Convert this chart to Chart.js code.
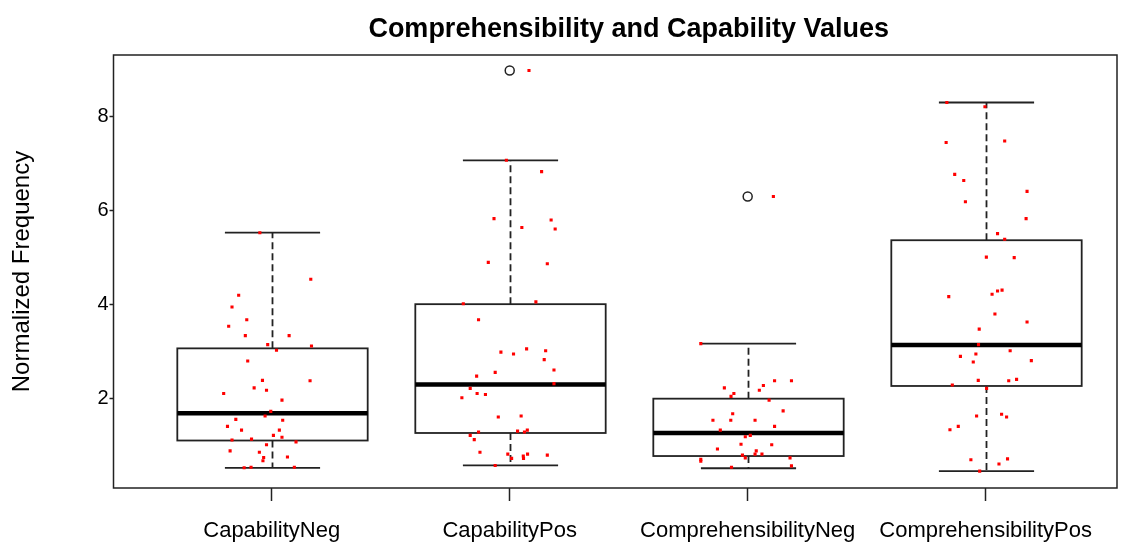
<!DOCTYPE html>
<html>
<head>
<meta charset="utf-8">
<script src="https://cdn.jsdelivr.net/npm/chart.js@4.4.1/dist/chart.umd.min.js"></script>
<style>
  body { margin: 0; background: #fff; }
  #wrap { width: 1131px; height: 544px; overflow: hidden; }
</style>
</head>
<body>
<div id="wrap"><canvas id="myChart" width="1131" height="544"></canvas></div>
<script>
// Data
const groups = ["CapabilityNeg", "CapabilityPos", "ComprehensibilityNeg", "ComprehensibilityPos"];
const yTicks = [2, 4, 6, 8];

// boxplot stats
const lowWhisker = [0.52, 0.57, 0.51, 0.45];
const lowerQuartile = [1.1, 1.26, 0.77, 2.26];
const medians = [1.68, 2.29, 1.26, 3.13];
const upperQuartile = [3.06, 4.0, 1.99, 5.36];
const highWhisker = [5.52, 7.06, 3.16, 8.29];
const outliers = [[], [8.97], [6.29], []];

// jittered observations (value + horizontal jitter in group units)
const capNegValues = [5.52, 4.53, 4.19, 3.94, 3.67, 3.53, 3.33, 3.33, 3.14, 3.11, 3.02, 2.79, 2.38, 2.37, 2.22, 2.17, 2.1, 1.96, 1.72, 1.62, 1.55, 1.53, 1.4, 1.32, 1.32, 1.21, 1.17, 1.11, 1.13, 1.07, 1.01, 0.88, 0.85, 0.74, 0.67, 0.75, 0.52, 0.53, 0.53];
const capNegJitter = [-0.05, 0.164, -0.139, -0.167, -0.105, -0.181, -0.111, 0.073, -0.017, 0.167, 0.02, -0.101, -0.039, 0.161, -0.074, -0.022, -0.202, 0.043, -0.004, -0.028, -0.151, 0.046, -0.186, -0.127, 0.032, 0.007, 0.043, -0.167, -0.085, 0.102, -0.022, -0.175, -0.052, -0.034, -0.037, 0.066, -0.116, -0.087, 0.095];

const capPosValues = [8.97, 7.06, 6.82, 5.82, 5.63, 5.79, 5.6, 4.89, 4.86, 4.01, 4.05, 3.67, 2.98, 2.94, 3.05, 3.01, 2.82, 2.6, 2.55, 2.47, 2.31, 2.21, 2.1, 2.08, 2.01, 1.6, 1.62, 1.28, 1.3, 1.32, 1.28, 1.21, 1.12, 0.85, 0.81, 0.72, 0.77, 0.72, 0.81, 0.79, 0.57];
const capPosJitter = [0.081, -0.014, 0.134, -0.066, 0.051, 0.174, 0.191, -0.09, 0.158, -0.195, 0.11, -0.131, -0.037, 0.016, 0.071, 0.151, 0.145, 0.186, -0.061, -0.139, 0.186, -0.166, -0.137, -0.102, -0.201, -0.048, 0.048, -0.131, 0.033, 0.074, 0.062, -0.166, -0.149, -0.125, -0.008, 0.008, 0.057, 0.058, 0.075, 0.158, -0.061];

const compNegValues = [6.29, 3.16, 2.37, 2.37, 2.22, 2.27, 2.17, 2.1, 2.04, 1.96, 1.73, 1.67, 1.53, 1.53, 1.53, 1.4, 1.32, 1.18, 1.21, 1.02, 0.92, 1.01, 0.88, 0.81, 0.81, 0.79, 0.73, 0.7, 0.66, 0.73, 0.56, 0.53];
const compNegJitter = [0.108, -0.197, 0.113, 0.184, -0.098, 0.066, 0.049, -0.058, -0.07, 0.09, 0.149, -0.063, -0.146, -0.071, 0.031, 0.113, -0.115, -0.01, 0.011, -0.028, -0.127, 0.101, 0.036, 0.031, 0.06, -0.022, -0.01, -0.197, -0.197, 0.178, 0.184, -0.068];

const compPosValues = [8.29, 8.2, 7.44, 7.47, 6.76, 6.63, 6.4, 6.18, 5.82, 5.5, 5.38, 5.0, 4.99, 4.16, 4.21, 4.28, 4.3, 3.79, 3.62, 3.47, 3.14, 3.01, 2.89, 2.94, 2.77, 2.8, 2.38, 2.37, 2.4, 2.28, 2.21, 1.62, 1.66, 1.6, 1.33, 1.4, 0.69, 0.71, 0.6, 0.45];
const compPosJitter = [-0.163, -0.003, -0.166, 0.08, -0.13, -0.092, 0.174, -0.085, 0.17, 0.05, 0.08, 0.003, 0.12, -0.155, 0.027, 0.05, 0.069, 0.039, 0.174, -0.027, -0.03, 0.103, -0.106, -0.041, -0.052, 0.192, -0.031, 0.097, 0.13, -0.14, 0.004, -0.038, 0.067, 0.088, -0.15, -0.115, -0.062, 0.092, 0.056, -0.025];

const groupValues = [capNegValues, capPosValues, compNegValues, compPosValues];
const groupJitter = [capNegJitter, capPosJitter, compNegJitter, compPosJitter];

const FONT = "'Liberation Sans', Arial, sans-serif";

const points = [];
groupValues.forEach((vals, g) => {
  vals.forEach((v, i) => points.push({ x: g + 1 + groupJitter[g][i], y: v }));
});

const outlierPoints = [];
outliers.forEach((vals, g) => vals.forEach((v) => outlierPoints.push({ x: g + 1, y: v })));

// boxes, whiskers, frame and title drawn through the scales
const boxPlugin = {
  id: "boxes",
  beforeDatasetsDraw(chart) {
    const { ctx, chartArea, scales } = chart;
    const x = scales.x;
    const y = scales.y;
    const boxHalf = x.getPixelForValue(1.4) - x.getPixelForValue(1);
    const capHalf = x.getPixelForValue(1.2) - x.getPixelForValue(1);

    ctx.save();
    ctx.strokeStyle = "#222";

    groups.forEach((g, i) => {
      const cx = Math.round(x.getPixelForValue(i + 1)) + 0.5;
      const yLo = y.getPixelForValue(lowWhisker[i]);
      const yQ1 = y.getPixelForValue(lowerQuartile[i]);
      const yMed = y.getPixelForValue(medians[i]);
      const yQ3 = y.getPixelForValue(upperQuartile[i]);
      const yHi = y.getPixelForValue(highWhisker[i]);

      // whiskers
      ctx.lineWidth = 1.8;
      ctx.setLineDash([7, 4]);
      ctx.beginPath();
      ctx.moveTo(cx, yQ3);
      ctx.lineTo(cx, yHi);
      ctx.moveTo(cx, yQ1);
      ctx.lineTo(cx, yLo);
      ctx.stroke();
      ctx.setLineDash([]);

      // caps
      ctx.beginPath();
      ctx.moveTo(cx - capHalf, yHi);
      ctx.lineTo(cx + capHalf, yHi);
      ctx.moveTo(cx - capHalf, yLo);
      ctx.lineTo(cx + capHalf, yLo);
      ctx.stroke();

      // box
      ctx.strokeRect(cx - boxHalf, yQ3, boxHalf * 2, yQ1 - yQ3);

      // median
      ctx.lineWidth = 4.5;
      ctx.strokeStyle = "#000";
      ctx.beginPath();
      ctx.moveTo(cx - boxHalf, yMed);
      ctx.lineTo(cx + boxHalf, yMed);
      ctx.stroke();
      ctx.strokeStyle = "#222";
    });

    // frame
    ctx.lineWidth = 1.5;
    ctx.strokeStyle = "#222";
    ctx.strokeRect(chartArea.left, chartArea.top, chartArea.right - chartArea.left, chartArea.bottom - chartArea.top);

    // title, centred over the group range
    ctx.fillStyle = "#000";
    ctx.font = "bold 27px " + FONT;
    ctx.textAlign = "center";
    ctx.textBaseline = "alphabetic";
    ctx.fillText("Comprehensibility and Capability Values", x.getPixelForValue(2.5), 37);
    ctx.restore();
  },
};

const config = {
  type: "scatter",
  data: {
    datasets: [
      {
        label: "points",
        data: points,
        pointStyle: "rect",
        pointRadius: 2.2,
        pointBorderWidth: 0,
        backgroundColor: "#ff0000",
        borderColor: "#ff0000",
      },
      {
        label: "outliers",
        data: outlierPoints,
        pointStyle: "circle",
        pointRadius: 4.5,
        pointBorderWidth: 1.5,
        backgroundColor: "rgba(0,0,0,0)",
        borderColor: "#222",
      },
    ],
  },
  options: {
    responsive: false,
    animation: false,
    devicePixelRatio: 1,
    layout: {
      padding: { top: 55, right: 14, left: 0, bottom: 0 },
    },
    scales: {
      x: {
        type: "linear",
        min: 0.335,
        max: 4.552,
        afterBuildTicks: (axis) => {
          axis.ticks = groups.map((g, i) => ({ value: i + 1 }));
        },
        afterFit: (axis) => {
          axis.height = 56;
        },
        ticks: {
          autoSkip: false,
          maxRotation: 0,
          padding: 17,
          color: "#000",
          font: { family: FONT, size: 22 },
          callback: (v) => groups[v - 1],
        },
        grid: {
          drawOnChartArea: false,
          tickLength: 13,
          tickWidth: 1.5,
          tickColor: "#222",
        },
        border: { display: false },
      },
      y: {
        type: "linear",
        min: 0.09,
        max: 9.3,
        afterBuildTicks: (axis) => {
          axis.ticks = yTicks.map((v) => ({ value: v }));
        },
        afterFit: (axis) => {
          axis.width = 113.5;
        },
        ticks: {
          padding: 1,
          color: "#000",
          font: { family: FONT, size: 20 },
        },
        grid: {
          drawOnChartArea: false,
          tickLength: 4,
          tickWidth: 1.5,
          tickColor: "#222",
        },
        border: { display: false },
        title: {
          display: true,
          text: "Normalized Frequency",
          color: "#000",
          font: { family: FONT, size: 24 },
          padding: { top: 8, bottom: 0 },
        },
      },
    },
    plugins: {
      legend: { display: false },
      tooltip: { enabled: false },
    },
  },
  plugins: [boxPlugin],
};

const myChart = new Chart(document.getElementById("myChart"), config);
</script>
</body>
</html>
